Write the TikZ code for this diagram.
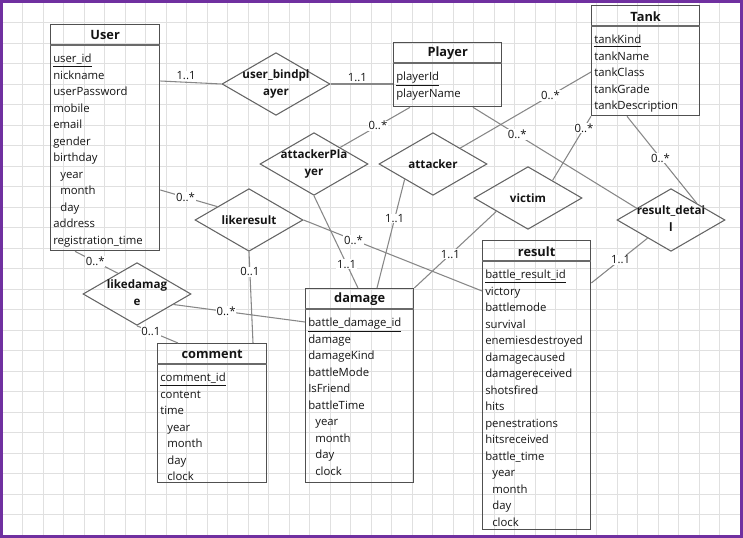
\documentclass[tikz,border=0pt]{standalone}
\usepackage{fontspec}
\setmainfont{Open Sans}
\usetikzlibrary{calc,shapes.geometric}
\definecolor{purpleb}{RGB}{112,48,160}
\definecolor{gridc}{RGB}{224,224,224}
\definecolor{boxc}{RGB}{80,80,80}
\definecolor{linec}{RGB}{135,135,135}
\definecolor{relc}{RGB}{100,100,100}
\definecolor{txtc}{RGB}{20,20,20}
\newcommand{\erentity}[7]{%
  \node[entity, minimum width=#4*0.75pt, minimum height=#5*0.75pt] (#1) at (#2,#3) {};
  \node[etitle] (#1-t) at ($(#1.north)+(0,11.3)$) {#6};
  \draw[hdr] ($(#1.north west)+(0,21)$) -- ($(#1.north east)+(0,21)$);
  \foreach \r [count=\i] in {#7} {\node[erow] (#1-r\i) at ($(#1.north west)+(3,19.3+16.5*\i)$) {\r};}
}
\newcommand{\ind}{\hspace*{5.3pt}}
\newcommand{\pk}[1]{\underline{#1}}
\begin{document}
\begin{tikzpicture}[x=0.75pt,y=-0.75pt,
  entity/.style={draw=boxc, line width=1pt, anchor=north west, inner sep=0pt},
  etitle/.style={inner sep=0pt, text=txtc, font=\bfseries\fontsize{9.6}{11}\selectfont},
  hdr/.style={draw=boxc!85, line width=1.2pt},
  erow/.style={anchor=west, inner sep=0pt, text height=6.5pt, text depth=2pt, text=txtc, font=\fontsize{8.5}{10}\selectfont},
  rel/.style={diamond, draw=relc, line width=0.8pt, inner sep=0pt, minimum width=81pt, minimum height=47pt, text=txtc, font=\bfseries\fontsize{8.7}{12.5}\selectfont},
  conn/.style={draw=linec, line width=0.8pt},
  lbl/.style={fill=white, inner sep=0.6pt, text=txtc, font=\fontsize{8.5}{10}\selectfont},
  gridl/.style={draw=gridc, line width=0.75pt}]
\useasboundingbox (0,0) rectangle (743,538);
% grid
\foreach \k in {0,...,36} {\draw[gridl] (2.2+20.5*\k,2) -- (2.2+20.5*\k,536);}
\foreach \k in {0,...,26} {\draw[gridl] (2,2.2+20.5*\k) -- (741,2.2+20.5*\k);}
\draw[purpleb, line width=2.4pt] (1.6,1.6) rectangle (741.4,536.4);

% entities
\erentity{User}{50}{24}{109}{226}{User}{\pk{user\_id},nickname,userPassword,mobile,email,gender,birthday,\ind year,\ind month,\ind day,address,registration\_time}
\erentity{Player}{393}{42}{108}{64}{Player}{\pk{playerId},playerName}
\erentity{Tank}{591}{5}{108}{110}{Tank}{\pk{tankKind},tankName,tankClass,tankGrade,tankDescription}
\erentity{result}{482}{240}{108}{289}{result}{\pk{battle\_result\_id},victory,battlemode,survival,enemiesdestroyed,damagecaused,damagereceived,shotsfired,hits,penestrations,hitsreceived,battle\_time,\ind year,\ind month,\ind day,\ind clock}
\erentity{damage}{305}{288}{108}{194}{damage}{\pk{battle\_damage\_id},damage,damageKind,battleMode,IsFriend,battleTime,\ind year,\ind month,\ind day,\ind clock}
\erentity{comment}{157}{343}{109}{139}{comment}{\pk{comment\_id},content,time,\ind year,\ind month,\ind day,\ind clock}

% relationships
\node[rel] (bind) at (276,84) {\makebox[0pt]{\begin{tabular}{@{}c@{}}user\_bindpl\\ayer\end{tabular}}};
\node[rel] (attackerPlayer) at (314,164) {\makebox[0pt]{\begin{tabular}{@{}c@{}}attackerPla\\yer\end{tabular}}};
\node[rel] (attacker) at (433,164) {\makebox[0pt]{attacker}};
\node[rel] (victim) at (528,198) {\makebox[0pt]{victim}};
\node[rel] (detail) at (671,220) {\makebox[0pt]{\begin{tabular}{@{}c@{}}result\_detai\\l\end{tabular}}};
\node[rel] (likeresult) at (249,220) {\makebox[0pt]{likeresult}};
\node[rel] (likedamage) at (137,294) {\makebox[0pt]{\begin{tabular}{@{}c@{}}likedamag\\e\end{tabular}}};

% connectors
\draw[conn] ($(User.north east)+(0,57)$) -- (bind.west) node[lbl, pos=0.42, anchor=south, yshift=0.6pt] {1..1};
\draw[conn] (bind.east) -- ($(Player.north west)+(0,42)$) node[lbl, pos=0.43, anchor=south, yshift=0.6pt] {1..1};
\draw[conn] ($(Player.south west)+(17,0)$) -- ($(attackerPlayer.north)!0.48!(attackerPlayer.east)$) node[lbl, pos=0.46] {0..*};
\draw[conn] (attackerPlayer.south) -- ($(damage.north west)+(53,0)$) node[lbl, pos=0.74] {1..1};
\draw[conn] ($(attacker.west)!0.48!(attacker.south)$) -- ($(damage.north west)+(72,0)$) node[lbl, pos=0.36] {1..1};
\draw[conn] ($(Tank.north west)+(0,67)$) -- ($(attacker.north)!0.5!(attacker.east)$) node[lbl, pos=0.31] {0..*};
\draw[conn] ($(Player.south west)+(80,0)$) -- ($(detail.west)!0.37!(detail.north)$) node[lbl, pos=0.27] {0..*};
\draw[conn] (Tank.south west) -- ($(victim.north)!0.45!(victim.east)$) node[lbl, pos=0.18] {0..*};
\draw[conn] ($(victim.west)!0.42!(victim.south)$) -- (damage.north east) node[lbl, pos=0.56] {1..1};
\draw[conn] ($(Tank.south west)+(36,0)$) -- ($(detail.north)!0.47!(detail.east)$) node[lbl, pos=0.48] {0..*};
\draw[conn] ($(detail.west)!0.57!(detail.south)$) -- ($(result.north east)+(0,43)$) node[lbl, pos=0.48] {1..1};
\draw[conn] ($(User.north east)+(0,166)$) -- ($(likeresult.west)!0.42!(likeresult.north)$) node[lbl, pos=0.44] {0..*};
\draw[conn] (likeresult.east) -- ($(result.north west)+(0,51)$) node[lbl, pos=0.28] {0..*};
\draw[conn] (likeresult.south) -- ($(comment.north west)+(96,0)$) node[lbl, pos=0.22] {0..1};
\draw[conn] ($(User.south west)+(25,0)$) -- ($(likedamage.west)!0.65!(likedamage.north)$) node[lbl, pos=0.47] {0..*};
\draw[conn] ($(likedamage.east)!0.33!(likedamage.south)$) -- ($(damage.north west)+(0,34)$) node[lbl, pos=0.40] {0..*};
\draw[conn] (likedamage.south) -- ($(comment.north west)+(21,0)$) node[lbl, pos=0.34] {0..1};
\end{tikzpicture}
\end{document}
